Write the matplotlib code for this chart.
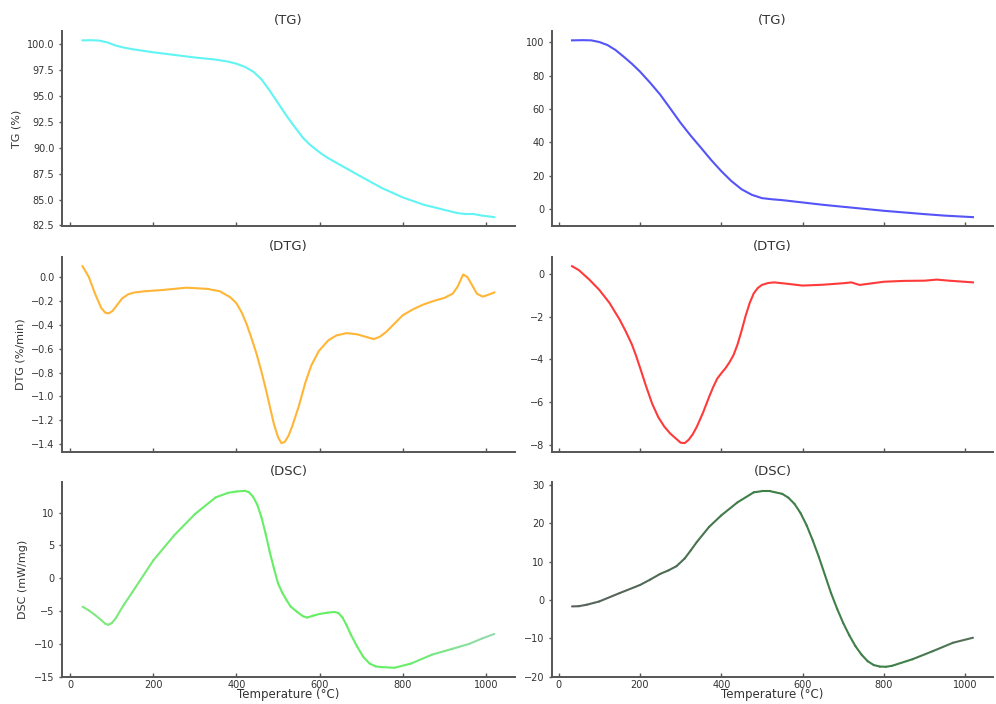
import matplotlib.pyplot as plt
import numpy as np
from matplotlib.collections import LineCollection
from matplotlib.colors import LinearSegmentedColormap

# Sample A (left column)
t_tg_a = [30, 50, 70, 90, 110, 130, 150, 200, 250, 300, 350, 380, 400, 420, 440, 460, 480,
          500, 520, 540, 560, 575, 590, 605, 620, 640, 660, 700, 750, 800, 850, 900, 930,
          950, 970, 990, 1020]
tg_a = [100.35, 100.37, 100.33, 100.15, 99.85, 99.65, 99.5, 99.2, 98.95, 98.7, 98.5, 98.3,
        98.1, 97.8, 97.35, 96.6, 95.5, 94.3, 93.1, 92.0, 90.95, 90.35, 89.85, 89.4, 89.0,
        88.55, 88.1, 87.2, 86.1, 85.2, 84.5, 84.0, 83.7, 83.6, 83.6, 83.45, 83.3]

t_dtg_a = [30, 45, 60, 75, 85, 93, 102, 112, 125, 140, 155, 180, 220, 280, 330, 360, 385,
           400, 413, 425, 437, 448, 460, 470, 480, 490, 500, 508, 516, 525, 534, 550, 566,
           580, 598, 621, 640, 665, 690, 710, 730, 745, 760, 780, 800, 825, 850, 875, 900,
           920, 932, 945, 955, 965, 978, 992, 1005, 1020]
dtg_a = [0.09, 0.0, -0.14, -0.26, -0.3, -0.305, -0.285, -0.24, -0.18, -0.145, -0.13, -0.12,
         -0.11, -0.09, -0.1, -0.12, -0.17, -0.22, -0.3, -0.4, -0.52, -0.64, -0.79, -0.93,
         -1.08, -1.23, -1.34, -1.39, -1.38, -1.33, -1.25, -1.08, -0.88, -0.74, -0.62, -0.53,
         -0.49, -0.47, -0.48, -0.5, -0.52, -0.5, -0.46, -0.39, -0.32, -0.27, -0.23, -0.2,
         -0.175, -0.14, -0.08, 0.02, 0.0, -0.06, -0.14, -0.165, -0.15, -0.13]

t_dsc_a = [30, 45, 60, 75, 85, 92, 100, 110, 120, 130, 150, 200, 250, 300, 350, 380, 400,
           420, 430, 440, 450, 460, 470, 480, 490, 500, 510, 520, 530, 545, 560, 570, 585,
           600, 620, 635, 645, 655, 665, 675, 690, 705, 720, 735, 750, 780, 820, 870, 920,
           960, 990, 1020]
dsc_a = [-4.35, -4.9, -5.6, -6.4, -6.95, -7.1, -6.85, -6.1, -5.0, -4.0, -2.1, 2.7, 6.5,
         9.75, 12.3, 13.0, 13.2, 13.3, 13.1, 12.4, 11.2, 9.3, 6.8, 4.0, 1.5, -0.8, -2.2, -3.3,
         -4.3, -5.1, -5.8, -6.0, -5.7, -5.45, -5.25, -5.15, -5.3, -6.0, -7.2, -8.6, -10.4,
         -12.0, -13.0, -13.45, -13.55, -13.65, -13.0, -11.65, -10.75, -10.0, -9.2, -8.5]

# Sample B (right column)
t_tg_b = [33, 60, 80, 100, 120, 140, 160, 180, 200, 225, 250, 275, 300, 325, 350, 375, 400,
          425, 450, 475, 500, 525, 550, 600, 650, 700, 750, 800, 850, 900, 950, 1019]
tg_b = [101.2, 101.3, 101.2, 100.2, 98.4, 95.4, 91.4, 87.2, 82.5, 75.8, 68.6, 60.2, 51.7,
        44.0, 36.8, 29.5, 22.8, 16.8, 11.9, 8.6, 6.6, 5.9, 5.4, 4.0, 2.6, 1.4, 0.2, -1.0,
        -2.0, -3.0, -3.9, -4.8]

t_dtg_b = [33, 50, 75, 100, 125, 150, 165, 180, 190, 200, 215, 230, 245, 260, 275, 290, 300,
           310, 320, 330, 340, 355, 370, 380, 390, 400, 410, 420, 430, 440, 450, 460, 470,
           480, 490, 500, 515, 530, 560, 600, 650, 700, 720, 740, 760, 800, 850, 900, 930,
           960, 1019]
dtg_b = [0.37, 0.18, -0.25, -0.74, -1.35, -2.13, -2.68, -3.29, -3.8, -4.37, -5.25, -6.07,
         -6.7, -7.15, -7.48, -7.73, -7.9, -7.92, -7.76, -7.5, -7.15, -6.5, -5.76, -5.3, -4.9,
         -4.65, -4.42, -4.14, -3.8, -3.3, -2.65, -1.95, -1.35, -0.9, -0.65, -0.51, -0.42,
         -0.39, -0.45, -0.54, -0.5, -0.43, -0.39, -0.51, -0.46, -0.36, -0.32, -0.31, -0.26,
         -0.31, -0.39]

t_dsc_b = [33, 50, 70, 100, 150, 200, 225, 250, 270, 290, 310, 325, 340, 370, 400, 440, 480,
           500, 520, 550, 565, 580, 595, 610, 625, 640, 655, 670, 685, 700, 715, 730, 745, 760,
           775, 790, 805, 820, 870, 920, 970, 1019]
dsc_b = [-1.66, -1.6, -1.2, -0.37, 1.8, 3.9, 5.3, 6.8, 7.7, 8.8, 10.8, 12.9, 15.1, 19.0,
         22.0, 25.4, 28.0, 28.3, 28.3, 27.6, 26.6, 25.0, 22.6, 19.4, 15.5, 11.2, 6.5, 1.8,
         -2.3, -6.0, -9.2, -12.0, -14.2, -15.9, -16.9, -17.3, -17.35, -17.1, -15.4, -13.3,
         -11.1, -9.8]

titles = ['(TG)', '(DTG)', '(DSC)']
ylabels = ['TG (%)', 'DTG (%/min)', 'DSC (mW/mg)']

plt.rcParams['font.family'] = ['DejaVu Sans']
fig = plt.figure(figsize=(9.96, 7.04), dpi=100)

col_left = [0.0622, 0.5542]
col_width = [0.4548, 0.4428]
row_bottom = [0.679, 0.358, 0.0384]
row_height = 0.2765

axs = [[None, None], [None, None], [None, None]]
for r in range(3):
    for c in range(2):
        axs[r][c] = fig.add_axes([col_left[c], row_bottom[r], col_width[c], row_height])


def grad_line(ax, x, y, colors, lw=1.5):
    # line whose colour shifts along the temperature axis
    x = np.asarray(x, float)
    y = np.asarray(y, float)
    pts = np.column_stack([x, y]).reshape(-1, 1, 2)
    segs = np.concatenate([pts[:-1], pts[1:]], axis=1)
    cmap = LinearSegmentedColormap.from_list('g', colors)
    pos = (x[:-1] - x.min()) / (x.max() - x.min())
    lc = LineCollection(segs, colors=cmap(pos), linewidth=lw, capstyle='round', joinstyle='round')
    ax.add_collection(lc)
    ax.autoscale_view()


LW = 1.5
axs[0][0].plot(t_tg_a, tg_a, color='#62f4f4', lw=LW)
axs[1][0].plot(t_dtg_a, dtg_a, color='#ffb536', lw=LW)
grad_line(axs[2][0], t_dsc_a, dsc_a,
          [(0.0, '#82e882'), (0.3, '#66ee66'), (0.75, '#66ee66'), (1.0, '#9ad8b8')])
axs[0][1].plot(t_tg_b, tg_b, color='#5454f8', lw=LW)
axs[1][1].plot(t_dtg_b, dtg_b, color='#ff3a3a', lw=LW)
grad_line(axs[2][1], t_dsc_b, dsc_b,
          [(0.0, '#5a635c'), (0.25, '#4d6e53'), (0.4, '#3f7f48'), (0.8, '#3f7f48'), (1.0, '#5a6b5e')])

axs[2][0].set_ylim(-15.05, 14.6)
axs[2][1].set_ylim(-20, 30.6)

for r in range(3):
    for c in range(2):
        ax = axs[r][c]
        ax.set_xticks([0, 200, 400, 600, 800, 1000])
        ax.set_title(titles[r], fontsize=9.5, color='#333333', pad=5)
        for s in ['top', 'right']:
            ax.spines[s].set_visible(False)
        for s in ['left', 'bottom']:
            ax.spines[s].set_color('#555555')
            ax.spines[s].set_linewidth(1.4)
        ax.tick_params(axis='x', direction='in', length=3, width=1, colors='#555555',
                       labelsize=7, labelcolor='#333333', pad=2)
        ax.tick_params(axis='y', direction='out', length=2, width=1, colors='#555555',
                       labelsize=7, labelcolor='#333333')
        if r < 2:
            ax.tick_params(axis='x', labelbottom=False)
        else:
            ax.set_xlabel('Temperature (°C)', fontsize=8.5, color='#333333', labelpad=-1)
        if c == 0:
            ax.set_ylabel(ylabels[r], fontsize=8, color='#333333')

axs[0][0].set_yticks([82.5, 85.0, 87.5, 90.0, 92.5, 95.0, 97.5, 100.0])
axs[0][0].yaxis.set_major_formatter(plt.FormatStrFormatter('%.1f'))

fig.savefig('out.png', dpi=100)
